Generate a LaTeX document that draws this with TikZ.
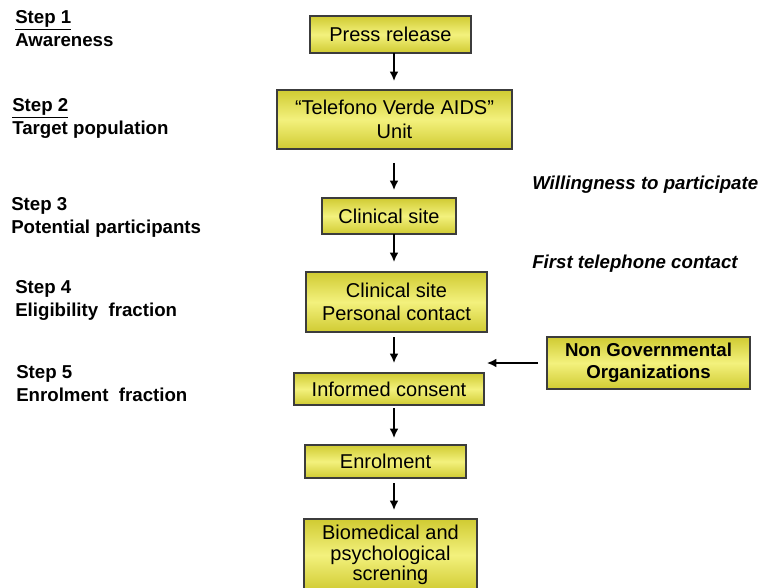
\documentclass[tikz,border=0pt]{standalone}
\usepackage{fontspec}
\setmainfont{Liberation Sans}
\usetikzlibrary{positioning, arrows.meta}

\definecolor{boxlight}{RGB}{243,241,125}
\definecolor{boxdark}{RGB}{208,203,50}
\definecolor{boxline}{RGB}{60,60,60}

\tikzset{
  flowbox/.style={draw=boxline, line width=1.1pt, top color=boxdark, bottom color=boxdark, middle color=boxlight, inner sep=0pt, outer sep=0pt, align=center, font=\fontsize{15}{17.5}\selectfont},
  steplabel/.style={anchor=west, align=left, inner sep=0pt, font=\bfseries\fontsize{14}{17.25}\selectfont},
  notelabel/.style={anchor=west, inner sep=0pt, font=\bfseries\itshape\fontsize{14}{17}\selectfont},
  flow/.style={->, line width=1.1pt}
}

\begin{document}
\begin{tikzpicture}[x=0.75pt, y=-0.75pt, >={Latex[length=7pt,width=6.5pt]}]
\useasboundingbox (0,0) rectangle (767,588);

% main column
\node[flowbox, minimum width=120.75pt, minimum height=27.75pt] (press) at (390.5,34.5) {Press release};
\node[flowbox, minimum width=176.25pt, minimum height=44.25pt, below=27.75pt of press, xshift=3pt] (tel) {``Telefono Verde AIDS''\\Unit};
\node[flowbox, minimum width=100.5pt, minimum height=27pt, below=36.75pt of tel, xshift=-4.125pt] (clin) {Clinical site};
\node[flowbox, minimum width=135.75pt, minimum height=45pt, below=28.5pt of clin, xshift=5.625pt] (pc) {Clinical site\\Personal contact};
\node[flowbox, minimum width=142.5pt, minimum height=24pt, below=30.75pt of pc, xshift=-5.625pt] (ic) {Informed consent};
\node[flowbox, minimum width=120.75pt, minimum height=24.75pt, below=30pt of ic, xshift=-2.625pt] (enr) {Enrolment};
\node[flowbox, minimum width=129.75pt, minimum height=54pt, below=30.75pt of enr, xshift=3.75pt, font=\fontsize{15}{15.5}\selectfont] (bio) {Biomedical and\\psychological\\screning};

\node[flowbox, minimum width=152.25pt, minimum height=39pt, font=\bfseries\fontsize{14}{16.5}\selectfont] (ngo) at (648.5,363) {Non Governmental\\Organizations};

% steps on the left
\node[steplabel] (s1) at (15,29) {\underline{Step 1}\\Awareness};
\node[steplabel] (s2) at (12,118) {\underline{Step 2}\\Target population};
\node[steplabel] (s3) at (11,217) {Step 3\\Potential participants};
\node[steplabel] (s4) at (15,300) {Step 4\\Eligibility\ \ fraction};
\node[steplabel] (s5) at (16,384) {Step 5\\Enrolment\ \ fraction};

\node[notelabel] (will) at (532,185) {Willingness to participate};
\node[notelabel] (first) at (532,264) {First telephone contact};

% arrows
\coordinate (axis) at (394,0);
\draw[flow, shorten >=6.75pt] (press.south -| axis) -- (tel.north -| axis);
\draw[flow, shorten <=10.5pt, shorten >=6pt] (tel.south -| axis) -- (clin.north -| axis);
\draw[flow, shorten >=7.5pt] (clin.south -| axis) -- (pc.north -| axis);
\draw[flow, shorten <=3.75pt, shorten >=7.5pt] (pc.south -| axis) -- (ic.north -| axis);
\draw[flow, shorten <=2.25pt, shorten >=5.25pt] (ic.south -| axis) -- (enr.north -| axis);
\draw[flow, shorten <=3.75pt, shorten >=6.75pt] (enr.south -| axis) -- (bio.north -| axis);
\draw[flow, shorten <=6.75pt] (ngo.west) -- (ngo.west -| pc.east);
\end{tikzpicture}
\end{document}
